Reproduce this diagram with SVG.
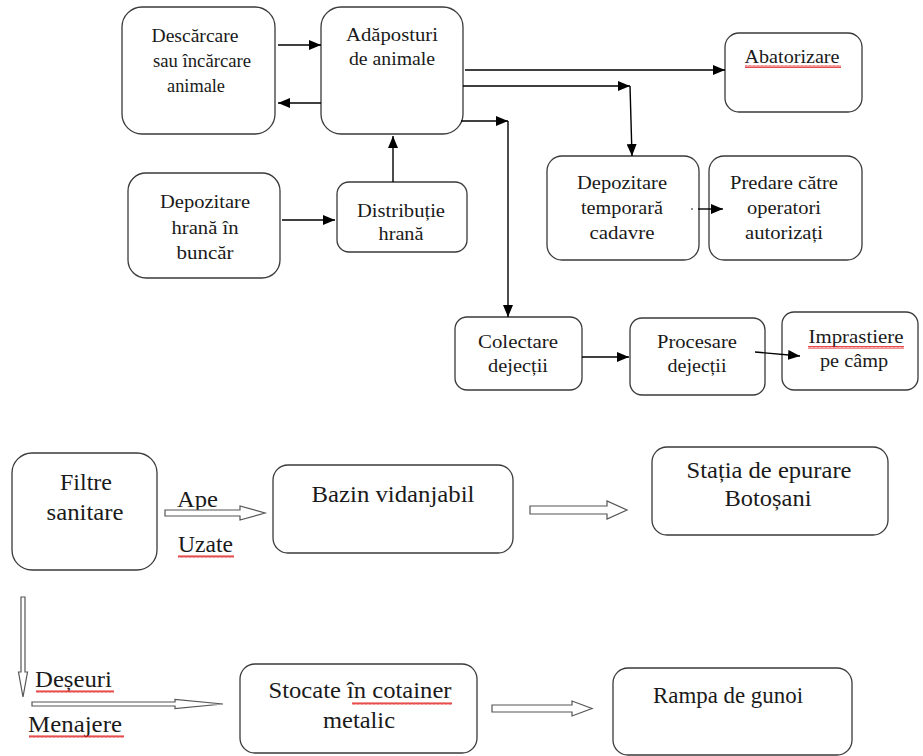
<svg xmlns="http://www.w3.org/2000/svg" width="923" height="756" viewBox="0 0 923 756">
<style>
.box{fill:#fff;stroke:#3a3a3a;stroke-width:1.3}
text{font-family:"Liberation Serif","Liberation Sans",sans-serif;fill:#1a1a1a}
.t{font-size:19px;text-anchor:middle}
.b{font-size:23px;text-anchor:middle}
.bl{font-size:23px}
.c{stroke:#000;stroke-width:1.4;fill:none}
.h{fill:#fff;stroke:#555;stroke-width:1.2}
.sq{fill:url(#wave)}
</style>
<defs>
<marker id="ah" viewBox="0 0 12 10" refX="12" refY="5" markerWidth="12" markerHeight="10" markerUnits="userSpaceOnUse" orient="auto">
<path d="M0,0 L12,5 L0,10 z" fill="#000"/>
</marker>
<pattern id="wave" width="4" height="3" patternUnits="userSpaceOnUse">
<path d="M0,2.7 L1,0.3 L2,2.7 L3,0.3 L4,2.7" fill="none" stroke="#e02020" stroke-width="0.8"/>
</pattern>
</defs>

<g id="n-descarcare">
<rect class="box" x="122" y="7" width="153" height="127" rx="20"/>
<text class="t" x="195" y="42" textLength="87" lengthAdjust="spacingAndGlyphs">Descărcare</text>
<text class="t" x="202" y="67" textLength="98" lengthAdjust="spacingAndGlyphs">sau încărcare</text>
<text class="t" x="196" y="92" textLength="58" lengthAdjust="spacingAndGlyphs">animale</text>
</g>
<g id="n-adaposturi">
<rect class="box" x="321" y="7" width="142" height="127" rx="20"/>
<text class="t" x="392" y="41" textLength="92" lengthAdjust="spacingAndGlyphs">Adăposturi</text>
<text class="t" x="392" y="65" textLength="86" lengthAdjust="spacingAndGlyphs">de animale</text>
</g>
<g id="n-abatorizare">
<rect class="box" x="725" y="33" width="137" height="79" rx="14"/>
<text class="t" x="792" y="63" textLength="95" lengthAdjust="spacingAndGlyphs">Abatorizare</text>
<rect class="sq" x="745" y="65" width="96" height="3"/>
</g>
<g id="n-depozitare-temp">
<rect class="box" x="547" y="156" width="152" height="104" rx="15"/>
<text class="t" x="622" y="189" textLength="90" lengthAdjust="spacingAndGlyphs">Depozitare</text>
<text class="t" x="622" y="214" textLength="82" lengthAdjust="spacingAndGlyphs">temporară</text>
<text class="t" x="622" y="239" textLength="65" lengthAdjust="spacingAndGlyphs">cadavre</text>
</g>
<g id="n-predare">
<rect class="box" x="709" y="156" width="153" height="104" rx="15"/>
<text class="t" x="784" y="189" textLength="108" lengthAdjust="spacingAndGlyphs">Predare către</text>
<text class="t" x="784" y="214" textLength="74" lengthAdjust="spacingAndGlyphs">operatori</text>
<text class="t" x="784" y="239" textLength="78" lengthAdjust="spacingAndGlyphs">autorizați</text>
</g>
<g id="n-depozitare-hrana">
<rect class="box" x="128" y="173" width="152" height="105" rx="18"/>
<text class="t" x="205" y="208" textLength="90" lengthAdjust="spacingAndGlyphs">Depozitare</text>
<text class="t" x="205" y="234" textLength="67" lengthAdjust="spacingAndGlyphs">hrană în</text>
<text class="t" x="205" y="259" textLength="57" lengthAdjust="spacingAndGlyphs">buncăr</text>
</g>
<g id="n-distributie">
<rect class="box" x="337" y="182" width="130" height="70" rx="12"/>
<text class="t" x="401" y="217" textLength="88" lengthAdjust="spacingAndGlyphs">Distribuție</text>
<text class="t" x="401" y="240" textLength="45" lengthAdjust="spacingAndGlyphs">hrană</text>
</g>
<g id="n-colectare">
<rect class="box" x="455" y="317" width="127" height="73" rx="12"/>
<text class="t" x="518" y="348" textLength="80" lengthAdjust="spacingAndGlyphs">Colectare</text>
<text class="t" x="518" y="372" textLength="60" lengthAdjust="spacingAndGlyphs">dejecții</text>
</g>
<g id="n-procesare">
<rect class="box" x="630" y="318" width="135" height="77" rx="12"/>
<text class="t" x="697" y="348" textLength="80" lengthAdjust="spacingAndGlyphs">Procesare</text>
<text class="t" x="697" y="372" textLength="59" lengthAdjust="spacingAndGlyphs">dejecții</text>
</g>
<g id="n-imprastiere">
<rect class="box" x="782" y="312" width="136" height="78" rx="12"/>
<text class="t" x="856" y="343" textLength="95" lengthAdjust="spacingAndGlyphs">Imprastiere</text>
<rect class="sq" x="808" y="346" width="96" height="3"/>
<text class="t" x="854" y="367" textLength="68" lengthAdjust="spacingAndGlyphs">pe câmp</text>
</g>

<g id="n-filtre">
<rect class="box" x="12" y="453" width="145" height="117" rx="20"/>
<text class="b" x="86" y="490" textLength="52" lengthAdjust="spacingAndGlyphs">Filtre</text>
<text class="b" x="85" y="520" textLength="77" lengthAdjust="spacingAndGlyphs">sanitare</text>
</g>
<g id="n-bazin">
<rect class="box" x="273" y="465" width="240" height="88" rx="15"/>
<text class="b" x="393" y="502" textLength="163" lengthAdjust="spacingAndGlyphs">Bazin vidanjabil</text>
</g>
<g id="n-statia">
<rect class="box" x="652" y="447" width="236" height="88" rx="15"/>
<text class="b" x="769" y="478" textLength="165" lengthAdjust="spacingAndGlyphs">Stația de epurare</text>
<text class="b" x="768" y="506" textLength="87" lengthAdjust="spacingAndGlyphs">Botoșani</text>
</g>
<g id="n-stocate">
<rect class="box" x="240" y="664" width="237" height="89" rx="15"/>
<text class="b" x="360" y="698" textLength="183" lengthAdjust="spacingAndGlyphs">Stocate în cotainer</text>
<rect class="sq" x="352" y="702" width="100" height="3"/>
<text class="b" x="359" y="728" textLength="72" lengthAdjust="spacingAndGlyphs">metalic</text>
</g>
<g id="n-rampa">
<rect class="box" x="613" y="668" width="239" height="87" rx="15"/>
<text class="b" x="728" y="703" textLength="150" lengthAdjust="spacingAndGlyphs">Rampa de gunoi</text>
</g>

<g id="labels">
<text class="bl" x="177" y="507" textLength="41" lengthAdjust="spacingAndGlyphs">Ape</text>
<text class="bl" x="178" y="552" textLength="55" lengthAdjust="spacingAndGlyphs">Uzate</text>
<rect class="sq" x="178" y="555" width="56" height="3"/>
<text class="bl" x="35" y="687" textLength="77" lengthAdjust="spacingAndGlyphs">Deșeuri</text>
<rect class="sq" x="36" y="690" width="78" height="3"/>
<text class="bl" x="28" y="732" textLength="94" lengthAdjust="spacingAndGlyphs">Menajere</text>
<rect class="sq" x="29" y="735" width="95" height="3"/>
</g>

<g id="connectors">
<line class="c" x1="278" y1="45" x2="321" y2="45" marker-end="url(#ah)"/>
<line class="c" x1="321" y1="103" x2="278" y2="103" marker-end="url(#ah)"/>
<line class="c" x1="393" y1="182" x2="393" y2="136" marker-end="url(#ah)"/>
<line class="c" x1="465" y1="70" x2="725" y2="70" marker-end="url(#ah)"/>
<line class="c" x1="463" y1="86" x2="630" y2="86" marker-end="url(#ah)"/>
<line class="c" x1="630" y1="86" x2="632" y2="156" marker-end="url(#ah)"/>
<line class="c" x1="461" y1="121" x2="508" y2="121" marker-end="url(#ah)"/>
<line class="c" x1="508" y1="121" x2="508" y2="317" marker-end="url(#ah)"/>
<line class="c" x1="282" y1="220" x2="335" y2="220" marker-end="url(#ah)"/>
<circle cx="692" cy="209" r="0.8" fill="#000"/>
<line class="c" x1="698" y1="209" x2="723" y2="209" marker-end="url(#ah)"/>
<line class="c" x1="582" y1="357" x2="629" y2="357" marker-end="url(#ah)"/>
<line class="c" x1="755" y1="352" x2="800" y2="356" marker-end="url(#ah)"/>
<polygon class="h" points="165,510 240,510 240,506 265,513 240,520 240,516 165,516"/>
<polygon class="h" points="530,506 607,506 607,501 627,510 607,519 607,514 530,514"/>
<polygon class="h" points="21,597 25,597 25,672 27.5,672 23,697 18.5,672 21,672"/>
<polygon class="h" points="32,702 175,702 175,699.5 223,704 175,708.5 175,706 32,706"/>
<polygon class="h" points="492,705 572,705 572,701 592,708.5 572,716 572,712 492,712"/>
</g>
</svg>
